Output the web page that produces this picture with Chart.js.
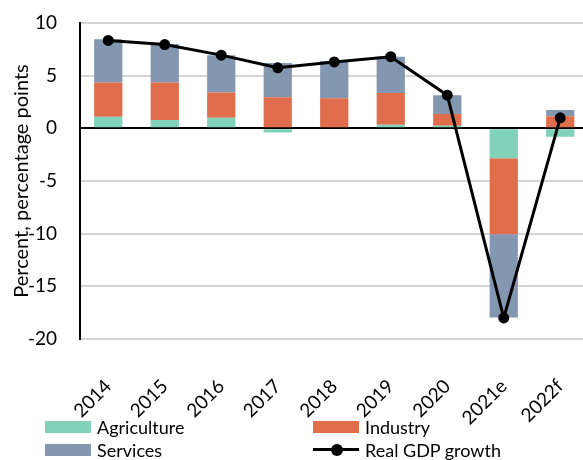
<!DOCTYPE html>
<html>
<head>
<meta charset="utf-8">
<script src="https://cdn.jsdelivr.net/npm/chart.js@4/dist/chart.umd.min.js"></script>
<style>
    body { margin: 0; background: #fff; overflow: hidden; }
    #wrap { position: relative; width: 583px; height: 460px; overflow: hidden; }
    #chart { position: absolute; left: 0; top: 0; }
    #legend { position: absolute; left: 0; top: 0; width: 583px; height: 460px; pointer-events: none;
        font-family: Lato, 'Open Sans', sans-serif; font-size: 18px; color: #000; }
    .leg-item { position: absolute; height: 22px; line-height: 22px; white-space: nowrap; }
    .leg-swatch { position: absolute; left: 0; top: 5px; width: 46px; height: 12px; }
    .leg-text { position: absolute; left: 52px; top: 0; }
</style>
</head>
<body>
<div id="wrap">
    <!-- a bit wider than the window: the last bar in the original sits right at the edge -->
    <canvas id="chart" width="594" height="460"></canvas>
    <div id="legend"></div>
</div>
<script>
const years = ['2014', '2015', '2016', '2017', '2018', '2019', '2020', '2021e', '2022f'];
const agriculture = [1.1, 0.8, 1.0, -0.4, 0.0, 0.35, 0.25, -2.85, -0.8];
const industry = [3.25, 3.55, 2.4, 2.95, 2.85, 3.0, 1.1, -7.2, 1.15];
const services = [4.1, 3.65, 3.55, 3.25, 3.55, 3.45, 1.8, -7.9, 0.6];
const gdpGrowth = [8.35, 7.95, 6.95, 5.75, 6.3, 6.8, 3.15, -18.0, 1.0];
const yTicks = [10, 5, 0, -5, -10, -15, -20];

const FONT = 'Lato, "Open Sans", sans-serif';
const GREEN = '#80d2b9';
const ORANGE = '#e06d4c';
const BLUE = '#8497b0';

const ctx = document.getElementById('chart').getContext('2d');
const chart = new Chart(ctx, {
    type: 'bar',
    data: {
        labels: years,
        datasets: [
            { type: 'line', label: 'Real GDP growth', data: gdpGrowth, stack: 'gdp', order: 0,
              borderColor: '#000', backgroundColor: '#000', borderWidth: 3,
              pointRadius: 5.5, pointBackgroundColor: '#000', pointBorderWidth: 0, tension: 0 },
            { label: 'Agriculture', data: agriculture, backgroundColor: GREEN, stack: 'bars', order: 1 },
            { label: 'Industry', data: industry, backgroundColor: ORANGE, stack: 'bars', order: 1 },
            { label: 'Services', data: services, backgroundColor: BLUE, stack: 'bars', order: 1 }
        ]
    },
    options: {
        responsive: false,
        animation: false,
        layout: { padding: { top: 23, right: 0, bottom: 21, left: 0 } },
        datasets: {
            bar: { categoryPercentage: 1, barPercentage: 0.5 }
        },
        scales: {
            x: {
                stacked: true,
                grid: { display: false },
                border: { display: false },
                ticks: {
                    color: '#000',
                    font: { family: FONT, size: 19 },
                    minRotation: 45,
                    maxRotation: 45,
                    padding: 28
                },
                afterFit: (scale) => {
                    scale.height = 100;
                    scale.paddingLeft = 0;
                    scale.paddingRight = 0;
                }
            },
            y: {
                stacked: true,
                min: -20,
                max: 10,
                afterBuildTicks: (scale) => { scale.ticks = yTicks.map(v => ({ value: v })); },
                grid: {
                    color: (c) => c.tick && c.tick.value === 0 ? '#000' : '#d4d4d4',
                    lineWidth: 2,
                    drawTicks: false,
                    tickLength: 0
                },
                border: { display: true, color: '#000', width: 2 },
                ticks: {
                    color: '#000',
                    font: { family: FONT, size: 19 },
                    padding: 23
                },
                title: {
                    display: true,
                    text: 'Percent, percentage points',
                    color: '#000',
                    font: { family: FONT, size: 20 },
                    padding: { top: 10, bottom: 0 }
                },
                afterFit: (scale) => {
                    scale.width = 80;
                    scale.paddingTop = 0;
                    scale.paddingBottom = 0;
                }
            }
        },
        plugins: {
            legend: { display: false },
            tooltip: { enabled: false }
        }
    }
});

// legend in two columns, like the original
const legendSlots = [
    { name: 'Agriculture', x: 45, y: 416 },
    { name: 'Industry', x: 313, y: 416 },
    { name: 'Services', x: 45, y: 439 },
    { name: 'Real GDP growth', x: 313, y: 439 }
];
const legendEl = document.getElementById('legend');
legendSlots.forEach((slot) => {
    const ds = chart.data.datasets.find(d => d.label === slot.name);
    const item = document.createElement('div');
    item.className = 'leg-item';
    item.style.left = slot.x + 'px';
    item.style.top = slot.y + 'px';

    const sw = document.createElement('div');
    sw.className = 'leg-swatch';
    if (ds.type === 'line') {
        sw.style.top = '9px';
        sw.style.height = '3px';
        sw.style.background = ds.borderColor;
        const dot = document.createElement('div');
        dot.style.cssText = 'position:absolute;left:18px;top:-4.5px;width:12px;height:12px;border-radius:6px;background:#000;';
        sw.appendChild(dot);
    } else {
        sw.style.background = ds.backgroundColor;
    }

    const txt = document.createElement('span');
    txt.className = 'leg-text';
    txt.textContent = ds.label;

    item.appendChild(sw);
    item.appendChild(txt);
    legendEl.appendChild(item);
});
</script>
</body>
</html>
